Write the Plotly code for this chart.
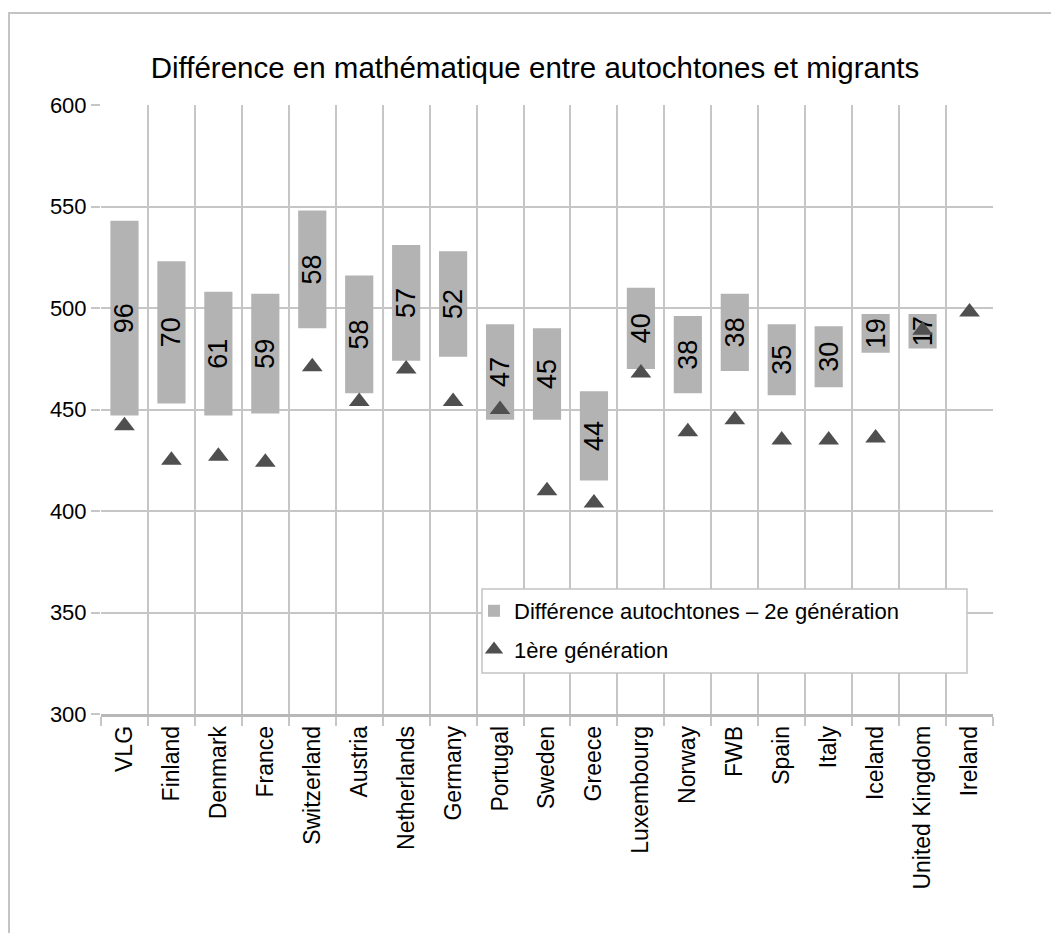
import plotly.graph_objects as go

countries = ["VLG", "Finland", "Denmark", "France", "Switzerland", "Austria",
             "Netherlands", "Germany", "Portugal", "Sweden", "Greece", "Luxembourg",
             "Norway", "FWB", "Spain", "Italy", "Iceland", "United Kingdom", "Ireland"]
autochtones = [543, 523, 508, 507, 548, 516, 531, 528, 492, 490, 459, 510,
               496, 507, 492, 491, 497, 497, None]
second_gen = [447, 453, 447, 448, 490, 458, 474, 476, 445, 445, 415, 470,
              458, 469, 457, 461, 478, 480, None]
first_gen = [442, 425, 427, 424, 471, 454, 470, 454, 450, 410, 404, 468,
             439, 445, 435, 435, 436, 489, 498]
y_ticks = [300, 350, 400, 450, 500, 550, 600]

diff = [None if a is None else a - b for a, b in zip(autochtones, second_gen)]
labels = ["" if d is None else str(d) for d in diff]

FONT = "Liberation Sans, Arial, Helvetica, sans-serif"
GRID = "#c6c6c6"

fig = go.Figure()
fig.add_trace(go.Bar(
    x=countries, y=diff, base=second_gen,
    name="Différence autochtones – 2e génération",
    legendgroup="diff",
    marker=dict(color="#b3b3b3", line=dict(width=0)),
    width=0.6,
    text=labels, textposition="inside", insidetextanchor="middle",
    textangle=-90, constraintext="none",
    textfont=dict(size=27, color="#000000", family=FONT),
    hoverinfo="skip",
))
fig.add_trace(go.Scatter(
    x=countries, y=first_gen, mode="markers",
    name="1ère génération",
    legendgroup="first",
    marker=dict(symbol="triangle-up", size=18, color="#4f4f4f",
                line=dict(width=0)),
    hoverinfo="skip",
))

W, H = 1051, 933
L, R, T, B = 101, 58, 105, 219
pw, ph = W - L - R, H - T - B

def px_x(x):
    return (x - L) / pw

def px_y(y):
    return (H - B - y) / ph

shapes = [
    # outer chart border (top and left visible)
    dict(type="rect", xref="paper", yref="paper",
         x0=px_x(9), x1=px_x(1080), y0=px_y(960), y1=px_y(13),
         line=dict(color="#c4c4c4", width=2), fillcolor="rgba(0,0,0,0)",
         layer="below"),
    # legend box
    dict(type="rect", xref="paper", yref="paper",
         x0=px_x(482), x1=px_x(967), y0=px_y(673), y1=px_y(589),
         line=dict(color="#c4c4c4", width=1.5), fillcolor="#ffffff",
         layer="above"),
]

fig.update_layout(
    width=W, height=H,
    margin=dict(l=L, r=R, t=T, b=B, autoexpand=False),
    paper_bgcolor="#ffffff", plot_bgcolor="#ffffff",
    font=dict(family=FONT, color="#000000"),
    title=dict(text="Différence en mathématique entre autochtones et migrants",
               x=535 / W, xanchor="center", y=1 - 68 / H, yanchor="middle",
               font=dict(size=29.5, family=FONT, color="#000000")),
    showlegend=True,
    legend=dict(x=px_x(474), y=px_y(590), xanchor="left", yanchor="top",
                bgcolor="rgba(0,0,0,0)", borderwidth=0,
                font=dict(size=22, family=FONT, color="#000000"),
                tracegroupgap=7, itemwidth=30),
    shapes=shapes,
    bargap=0.4,
)
fig.update_xaxes(
    type="category", tickson="boundaries",
    showgrid=True, gridcolor=GRID, gridwidth=1.5,
    ticks="outside", ticklen=9, tickcolor=GRID, tickwidth=1.5,
    tickangle=-90, tickfont=dict(size=23, family=FONT, color="#000000"),
    showline=True, linecolor="#b8b8b8", linewidth=2.5,
    range=[-0.5, 18.5], fixedrange=True,
)
fig.update_yaxes(
    range=[300, 600], tickvals=y_ticks, ticktext=[str(v) for v in y_ticks],
    showgrid=True, gridcolor=GRID, gridwidth=1.5,
    ticks="outside", ticklen=9, tickcolor=GRID, tickwidth=1.5,
    tickfont=dict(size=22, family=FONT, color="#000000"),
    showline=False, zeroline=False, fixedrange=True,
)

fig.write_html("out.html")
